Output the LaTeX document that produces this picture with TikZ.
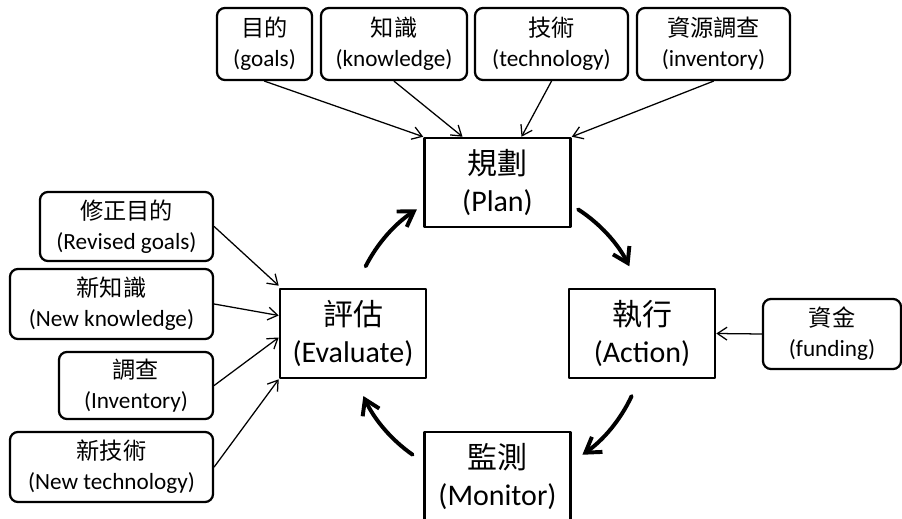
\documentclass[tikz,border=0pt]{standalone}
\usepackage{fontspec}
\setmainfont{Carlito}
\newfontfamily\cjk{Noto Sans CJK TC}
\usetikzlibrary{calc,arrows.meta}
\newcommand\smalltxt{\fontsize{16.5}{21.3}\selectfont}
\newcommand\bigtxt{\fontsize{21.3}{26.3}\selectfont}
\begin{document}
\begin{tikzpicture}[x=0.025cm,y=-0.025cm,line join=round,line cap=round,
	stage/.style={draw,line width=1.8pt,minimum width=3.65cm,minimum height=2.225cm,align=center,font=\bigtxt,inner sep=0pt},
	source/.style={draw,line width=1.6pt,rounded corners=2mm,minimum height=1.8cm,align=center,font=\smalltxt,inner sep=0pt},
	feed/.style={line width=0.9pt,-{Straight Barb[length=2.4mm,width=3.2mm]}},
	cycle/.style={line width=2.8pt,-{Straight Barb[length=3.6mm,width=4.6mm]}}]
	\useasboundingbox (0,0) rectangle (902,519);
	%		stages
	\node[stage] (plan) at (497.5,182.5) {{\cjk 規劃}\\(Plan)};
	\node[stage] (evaluate) at (353,333.5) {{\cjk 評估}\\(Evaluate)};
	\node[stage] (action) at (642,333.5) {{\cjk 執行}\\(Action)};
	\node[stage] (monitor) at (497.5,476.5) {{\cjk 監測}\\(Monitor)};
	
	%		inputs to the plan
	\node[source,minimum width=2.375cm] (goals) at (264.5,44) {{\cjk 目的}\\(goals)};
	\node[source,minimum width=3.65cm] (knowledge) at (394,44) {{\cjk 知識}\\(knowledge)};
	\node[source,minimum width=3.825cm] (technology) at (551.5,44) {{\cjk 技術}\\(technology)};
	\node[source,minimum width=3.825cm] (inventory) at (713.5,44) {{\cjk 資源調查}\\(inventory)};
	\draw[feed] (goals.south) -- (plan.north west);
	\draw[feed] (knowledge.south) -- ($(plan.north)+(-35,0)$);
	\draw[feed] (technology.south) -- ($(plan.north)+(24,0)$);
	\draw[feed] (inventory.south) -- (plan.north east);
	
	%		inputs to the evaluation
	\node[source,minimum width=4.325cm,minimum height=1.725cm] (revgoals) at (126.5,226.5) {{\cjk 修正目的}\\(Revised goals)};
	\node[source,minimum width=5.075cm,minimum height=1.75cm] (newknow) at (111.5,304) {{\cjk 新知識}\\(New knowledge)};
	\node[source,minimum width=3.85cm,minimum height=1.675cm] (newinv) at (136,385.5) {{\cjk 調查}\\(Inventory)};
	\node[source,minimum width=5.075cm,minimum height=1.75cm] (newtech) at (111.5,467) {{\cjk 新技術}\\(New technology)};
	\draw[feed] (revgoals.east) -- ($(evaluate.north west)+(0,-2)$);
	\draw[feed] (newknow.east) -- ($(evaluate.west)+(0,-18)$);
	\draw[feed] (newinv.east) -- ($(evaluate.west)+(0,4)$);
	\draw[feed] (newtech.east) -- (evaluate.south west);
	
	%		funding
	\node[source,minimum width=3.45cm,minimum height=1.75cm] (funding) at (832,334) {{\cjk 資金}\\(funding)};
	\draw[feed] (funding.west) -- (action.east);
	
	%		cycle
	\coordinate (c) at (497.5,333.5);
	\draw[cycle] ($(c)+(-57:148)$) arc[start angle=-57,end angle=-27,radius=148];
	\draw[cycle] ($(c)+(25:148)$) arc[start angle=25,end angle=55,radius=148];
	\draw[cycle] ($(c)+(125:148)$) arc[start angle=125,end angle=155,radius=148];
	\draw[cycle] ($(c)+(-153:148)$) arc[start angle=-153,end angle=-123,radius=148];
\end{tikzpicture}
\end{document}
